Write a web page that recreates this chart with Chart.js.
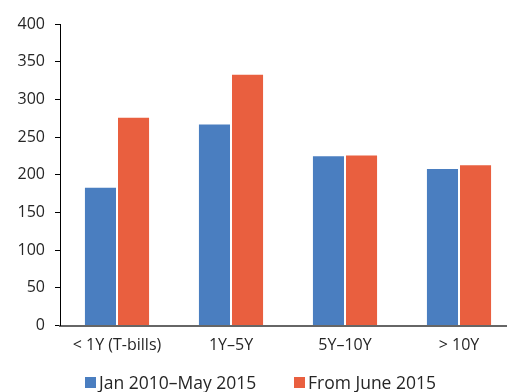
<!DOCTYPE html>
<html>
<head>
<meta charset="utf-8">
<script src="https://cdn.jsdelivr.net/npm/chart.js@4/dist/chart.umd.min.js"></script>
<style>
  html, body { margin: 0; padding: 0; background: #fff; overflow: hidden; }
  #wrap { position: relative; width: 520px; height: 392px; }
  #legend { position: absolute; left: 0; top: 0; width: 520px; height: 392px; pointer-events: none;
            font-family: "Open Sans", sans-serif; font-size: 17.5px; color: #262626; }
  .item { position: absolute; top: 372px; display: flex; align-items: center; white-space: nowrap; line-height: 20px; }
  .swatch { width: 11px; height: 11px; margin-right: 3px; }
</style>
</head>
<body>
<div id="wrap">
  <canvas id="chart" width="520" height="392"></canvas>
  <div id="legend"></div>
</div>
<script>
// Maturity buckets and average volumes for the two periods
const categories = ['< 1Y (T-bills)', '1Y\u20135Y', '5Y\u201310Y', '> 10Y'];
const seriesNames = ['Jan 2010\u2013May 2015', 'From June 2015'];
const earlyPeriod = [184, 268, 226, 209];
const latePeriod = [277, 334, 227, 214];
const yTicks = [0, 50, 100, 150, 200, 250, 300, 350, 400];

const colors = ['#4a7ec0', '#e95f3f'];
const legendLeft = [85, 294];

const ctx = document.getElementById('chart').getContext('2d');
const chart = new Chart(ctx, {
  type: 'bar',
  data: {
    labels: categories,
    datasets: [
      { label: seriesNames[0], data: earlyPeriod, backgroundColor: colors[0],
        borderColor: 'rgba(255,255,255,0.25)', borderWidth: 1 },
      { label: seriesNames[1], data: latePeriod, backgroundColor: colors[1],
        borderColor: 'rgba(255,255,255,0.25)', borderWidth: 1 }
    ]
  },
  options: {
    responsive: false,
    animation: false,
    layout: { padding: { top: 24, right: 4, left: 0, bottom: 0 } },
    datasets: { bar: { barPercentage: 1.0, categoryPercentage: 0.58 } },
    plugins: { legend: { display: false }, tooltip: { enabled: false } },
    scales: {
      x: {
        grid: { display: false, drawTicks: false },
        border: { display: true, color: '#666666', width: 2 },
        ticks: { color: '#262626', padding: 10, maxRotation: 0,
                 font: { family: 'Open Sans', size: 16 } },
        afterFit: (s) => { s.height = 66.5; }
      },
      y: {
        min: 0, max: 400,
        afterBuildTicks: (s) => { s.ticks = yTicks.map(v => ({ value: v })); },
        grid: { drawOnChartArea: false, drawTicks: true, tickLength: 5, color: '#000000' },
        border: { display: true, color: '#000000', width: 1 },
        ticks: { color: '#262626', padding: 10,
                 font: { family: 'Open Sans', size: 16 } },
        afterFit: (s) => { s.width = 60; }
      }
    }
  }
});

// Legend beneath the axis, built from the datasets
const legend = document.getElementById('legend');
chart.data.datasets.forEach((ds, i) => {
  const item = document.createElement('div');
  item.className = 'item';
  item.style.left = legendLeft[i] + 'px';
  const sw = document.createElement('span');
  sw.className = 'swatch';
  sw.style.background = ds.backgroundColor;
  const txt = document.createElement('span');
  txt.textContent = ds.label;
  item.appendChild(sw);
  item.appendChild(txt);
  legend.appendChild(item);
});
</script>
</body>
</html>
